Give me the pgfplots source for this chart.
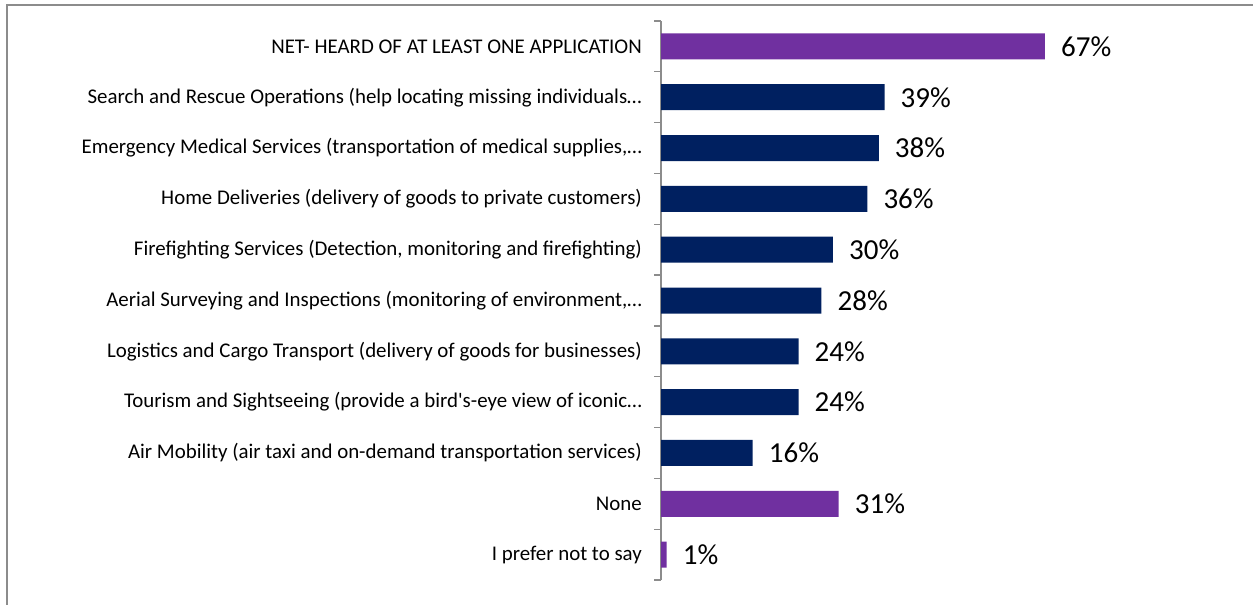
\documentclass[border=0pt]{standalone}
\usepackage{pgfplots}
\pgfplotsset{compat=1.18}
\usepackage{fontspec}
\setmainfont{Carlito}
\definecolor{navybar}{HTML}{002060}
\definecolor{purplebar}{HTML}{7030A0}
\definecolor{framegray}{HTML}{8C8C8C}
\begin{document}
\begin{tikzpicture}
  \useasboundingbox (0,0) rectangle (1253bp,605bp);
  % outer frame (only top and left visible)
  \draw[framegray, line width=1.6bp] (7bp,0bp) -- (7bp,600bp) -- (1253bp,600bp);

  \begin{axis}[
      at={(661bp,25bp)}, anchor=south west,
      scale only axis,
      width=573.1bp, height=559bp,
      xmin=0, xmax=100,
      ymin=-0.5, ymax=10.5,
      y dir=reverse,
      axis y line*=left,
      axis x line=none,
      y axis line style={framegray, line width=1.2bp},
      xbar, bar width=26bp, bar shift=0pt,
      ytick={0,...,10},
      major tick length=0pt,
      minor ytick={-0.5,0.5,...,10.5},
      minor tick length=7bp,
      tick align=outside,
      minor tick style={framegray, line width=1.2bp},
      yticklabel style={font=\fontsize{20.9bp}{24bp}\selectfont, inner sep=0pt, xshift=-19bp, anchor=east},
      yticklabels={
        NET- HEARD OF AT LEAST ONE APPLICATION,
        Search and Rescue Operations (help locating missing individuals…,
        {Emergency Medical Services (transportation of medical supplies,…},
        Home Deliveries (delivery of goods to private customers),
        {Firefighting Services (Detection, monitoring and firefighting)},
        {Aerial Surveying and Inspections (monitoring of environment,…},
        Logistics and Cargo Transport (delivery of goods for businesses),
        Tourism and Sightseeing (provide a bird\textquotesingle s-eye view of iconic…,
        Air Mobility (air taxi and on-demand transportation services),
        None,
        I prefer not to say
      },
      /pgf/number format/assume math mode=true,
      nodes near coords={\pgfmathprintnumber{\pgfplotspointmeta}\%},
      nodes near coords style={anchor=west, inner sep=0pt, xshift=16bp,
        font=\fontsize{29bp}{33bp}\selectfont, text=black},
      point meta=x,
    ]
    \addplot[fill=purplebar, draw=none] coordinates {
      (67,0) (31,9) (1,10)
    };
    \addplot[fill=navybar, draw=none] coordinates {
      (39,1) (38,2) (36,3) (30,4) (28,5) (24,6) (24,7) (16,8)
    };
  \end{axis}
\end{tikzpicture}
\end{document}
